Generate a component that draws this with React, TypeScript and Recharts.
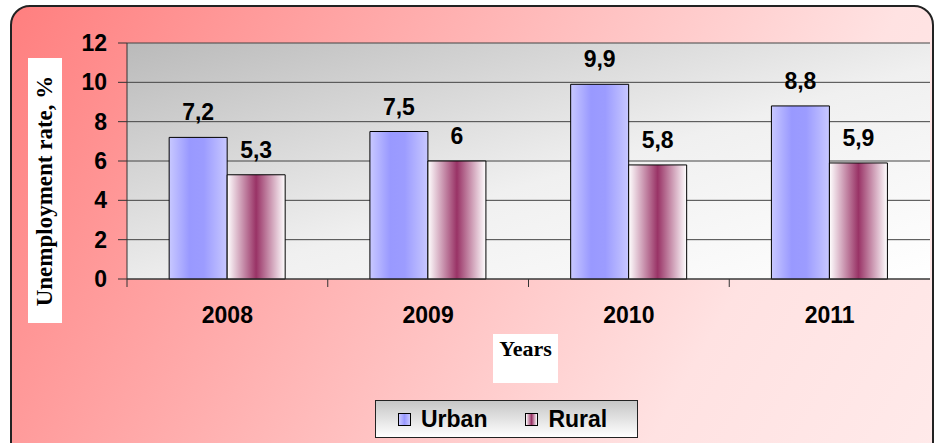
import React from "react";
import { Bar, BarChart, CartesianGrid, LabelList, XAxis, YAxis } from "recharts";

const years = ["2008", "2009", "2010", "2011"];
const urbanRate = [7.2, 7.5, 9.9, 8.8];
const ruralRate = [5.3, 6, 5.8, 5.9];
const yTicks = [0, 2, 4, 6, 8, 10, 12];

const data = years.map((year, i) => ({ year, urban: urbanRate[i], rural: ruralRate[i] }));

const ARIAL = "'Liberation Sans', Arial, sans-serif";
const SERIF = "'Liberation Serif', 'Times New Roman', serif";

const commaNum = (v: unknown) => String(v).replace(".", ",");

function XTick({ x = 0, y = 0, payload }: { x?: number; y?: number; payload?: { value: string; offset?: number } }) {
  const off = payload?.offset ?? 100;
  return (
    <g>
      <line x1={x - off} x2={x - off} y1={y} y2={y + 8} stroke="#333" />
      <text x={x} y={y + 44} textAnchor="middle" fontFamily={ARIAL} fontWeight={700} fontSize={23} fill="#000">
        {payload?.value}
      </text>
    </g>
  );
}

function LegendIcon({ fill }: { fill: string }) {
  return <span style={{ display: "inline-block", width: 11, height: 11, border: "1px solid #000", background: fill, marginRight: 10 }} />;
}

export default function App() {
  return (
    <div style={{ position: "absolute", left: 0, top: 0, width: 936, height: 443, overflow: "hidden", background: "#fff" }}>
      <div
        style={{
          position: "absolute", left: 10, top: 5, width: 920, height: 460, borderRadius: 20,
          border: "2px solid #222", background: "linear-gradient(120deg, #ff7f7f 0%, #ffb4b4 40%, #ffe2e2 75%, #ffeaea 100%)",
        }}
      />
      <div style={{ position: "absolute", left: 0, top: 0 }}>
        <BarChart width={936} height={443} data={data} margin={{ top: 43, right: 6, bottom: 124, left: 0 }} barCategoryGap="21%" barGap={0}>
          <defs>
            <linearGradient id="plotBg" x1="0" y1="0" x2="1" y2="1">
              <stop offset="0%" stopColor="#bababa" />
              <stop offset="55%" stopColor="#f0f0f0" />
              <stop offset="100%" stopColor="#ffffff" />
            </linearGradient>
            <linearGradient id="urbanFill" x1="0" y1="0" x2="1" y2="0">
              <stop offset="0%" stopColor="#c8c8ff" />
              <stop offset="35%" stopColor="#9999ff" />
              <stop offset="60%" stopColor="#9c9cff" />
              <stop offset="100%" stopColor="#c8c8ff" />
            </linearGradient>
            <linearGradient id="ruralFill" x1="0" y1="0" x2="1" y2="0">
              <stop offset="0%" stopColor="#ffffff" />
              <stop offset="50%" stopColor="#993366" />
              <stop offset="100%" stopColor="#ffffff" />
            </linearGradient>
          </defs>
          <CartesianGrid vertical={false} stroke="#444" fill="url(#plotBg)" fillOpacity={1} />
          <XAxis dataKey="year" height={40} tickLine={false} tickSize={0} tickMargin={0} axisLine={{ stroke: "#333" }} tick={<XTick />} interval={0} />
          <YAxis
            width={127} domain={[0, 12]} ticks={yTicks} interval={0} tickSize={9} tickMargin={11}
            tickLine={{ stroke: "#333" }} axisLine={{ stroke: "#333" }}
            tick={{ fontFamily: ARIAL, fontWeight: 700, fontSize: 23, fill: "#000" }}
          />
          <YAxis yAxisId="r" orientation="right" width={0} domain={[0, 12]} tick={false} tickLine={false} axisLine={{ stroke: "#999" }} />
          <Bar dataKey="urban" fill="url(#urbanFill)" stroke="#000" strokeWidth={1} isAnimationActive={false}>
            <LabelList dataKey="urban" position="top" offset={17} formatter={commaNum} fill="#000" fontFamily={ARIAL} fontWeight={700} fontSize={23} />
          </Bar>
          <Bar dataKey="rural" fill="url(#ruralFill)" stroke="#000" strokeWidth={1} isAnimationActive={false}>
            <LabelList dataKey="rural" position="top" offset={17} formatter={commaNum} fill="#000" fontFamily={ARIAL} fontWeight={700} fontSize={23} />
          </Bar>
        </BarChart>
      </div>
      <div
        style={{
          position: "absolute", left: 28, top: 58, width: 34, height: 265, background: "#fff",
          display: "flex", alignItems: "center", justifyContent: "center",
        }}
      >
        <div style={{ transform: "rotate(-90deg)", whiteSpace: "nowrap", fontFamily: SERIF, fontWeight: 700, fontSize: 23, color: "#000" }}>
          Unemployment rate, %
        </div>
      </div>
      <div
        style={{
          position: "absolute", left: 493, top: 334, width: 65, height: 49, background: "#fff",
          fontFamily: SERIF, fontWeight: 700, fontSize: 22, color: "#000", textAlign: "center", lineHeight: "30px",
        }}
      >
        Years
      </div>
      <div
        style={{
          position: "absolute", left: 375, top: 400, width: 261, height: 36, border: "1px solid #222",
          background: "linear-gradient(180deg, #c6c6c6 0%, #ffffff 100%)", display: "flex", alignItems: "center",
          fontFamily: ARIAL, fontWeight: 700, fontSize: 23, color: "#000",
        }}
      >
        <span style={{ display: "flex", alignItems: "center", marginLeft: 22 }}>
          <LegendIcon fill="linear-gradient(90deg, #c8c8ff, #9999ff, #c8c8ff)" />Urban
        </span>
        <span style={{ display: "flex", alignItems: "center", marginLeft: 38 }}>
          <LegendIcon fill="linear-gradient(90deg, #fff, #993366, #fff)" />Rural
        </span>
      </div>
    </div>
  );
}
